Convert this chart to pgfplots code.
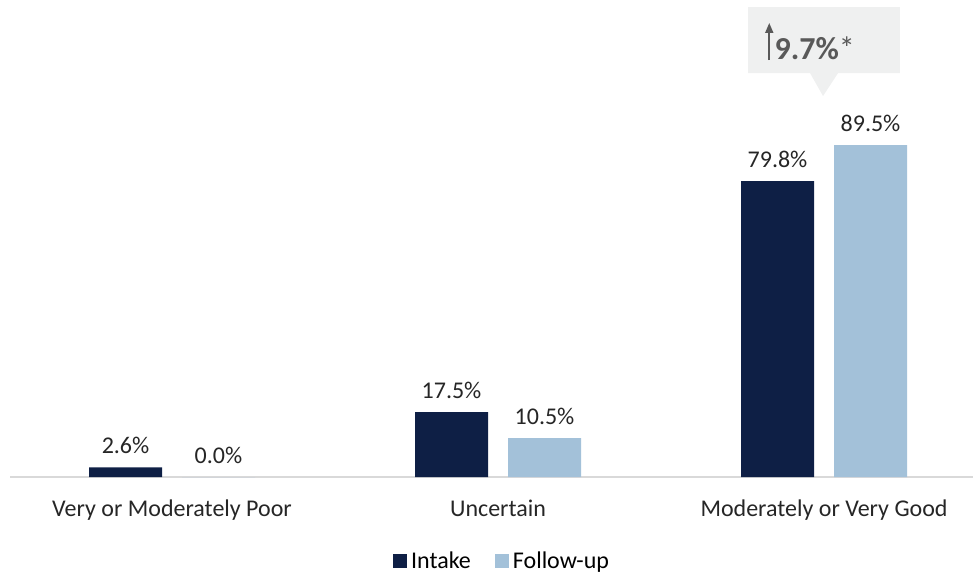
\documentclass[border=0pt]{standalone}
\usepackage{pgfplots}
\pgfplotsset{compat=1.18}
\usepackage{fontspec}
\setmainfont{Carlito}
\usetikzlibrary{arrows.meta}
\definecolor{navy}{HTML}{0E1F45}
\definecolor{lblue}{HTML}{A3C1D9}
\definecolor{boxgray}{HTML}{EFF0F0}
\definecolor{txtgray}{HTML}{595959}
\begin{document}
\begin{tikzpicture}[x=1pt,y=1pt]
\path[use as bounding box] (0,0) rectangle (973,575);
\begin{axis}[
  at={(10pt,98pt)}, anchor=south west,
  scale only axis, width=963pt, height=477pt,
  xmin=-0.497, xmax=2.457, ymin=0, ymax=128.6,
  axis y line=none, axis x line*=bottom,
  x axis line style={draw=black!15, line width=1.5pt},
  xtick={0,1,2}, xticklabels={Very or Moderately Poor,Uncertain,Moderately or Very Good},
  major tick length=0pt,
  /pgf/number format/assume math mode=true,
  ticklabel style={font=\fontsize{24}{28}\selectfont, text=black!85},
  xticklabel style={yshift=-19pt},
  ybar, bar width=0.224,
  clip=false,
  nodes near coords={\pgfmathprintnumber[fixed,fixed zerofill,precision=1,assume math mode=true]{\pgfplotspointmeta}\%},
  every node near coord/.append style={font=\fontsize{24}{28}\selectfont, text=black!85, yshift=10pt},
  legend style={at={(0.511,-0.176)}, anchor=center, draw=none, legend columns=2,
    font=\fontsize{24}{28}\selectfont,
    /tikz/every odd column/.append style={column sep=2pt},
    /tikz/every even column/.append style={column sep=22pt}},
  legend image code/.code={\fill[#1] (0pt,-7pt) rectangle (14pt,7pt);},
]
\addplot[fill=navy, draw=none, bar shift=-0.1426] coordinates {(0,2.6) (1,17.5) (2,79.8)};
\addplot[fill=lblue, draw=none, bar shift=0.1426] coordinates {(0,0.0) (1,10.5) (2,89.5)};
\legend{Intake,Follow-up}
\fill[boxgray] (axis cs:1.767,126.7) -- (axis cs:2.233,126.7) -- (axis cs:2.233,108.9)
  -- (axis cs:2.043,108.9) -- (axis cs:1.997,102.7) -- (axis cs:1.957,108.9)
  -- (axis cs:1.767,108.9) -- cycle;
\draw[txtgray, line width=1.8pt, -{Triangle[length=10pt,width=8pt]}] (axis cs:1.832,112.4) -- (axis cs:1.832,122.4);
\node[anchor=base west, text=txtgray, inner sep=0pt, font=\fontsize{32}{36}\selectfont] at (axis cs:1.848,112.5) {\textbf{9.7\%}*};
\end{axis}
\end{tikzpicture}
\end{document}
